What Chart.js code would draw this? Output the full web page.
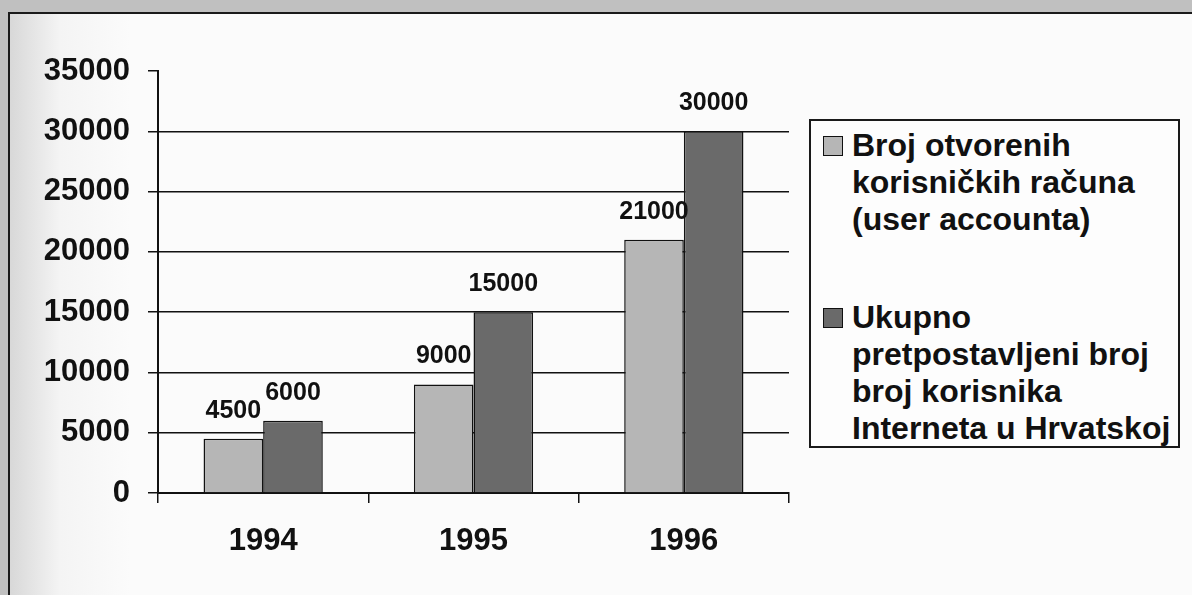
<!DOCTYPE html>
<html>
<head>
<meta charset="utf-8">
<script src="https://cdn.jsdelivr.net/npm/chart.js@4.4.1/dist/chart.umd.min.js"></script>
<style>
    html, body {
        margin: 0;
        padding: 0;
    }
    body {
        width: 1192px;
        height: 595px;
        overflow: hidden;
        position: relative;
        background: #c0c0c0;
        font-family: "Liberation Sans", Arial, sans-serif;
    }
    .frame {
        position: absolute;
        left: 8px;
        top: 12px;
        width: 1200px;
        height: 600px;
        border: 2px solid #1a1a1a;
        background: linear-gradient(to right, #d8d8d8 0px, #f4f4f4 50px, #fbfbfb 120px);
    }
    .chart-wrap {
        position: absolute;
        left: 0;
        top: 0;
        width: 1192px;
        height: 595px;
    }
    .legend {
        position: absolute;
        left: 809px;
        top: 119px;
        width: 371px;
        height: 329px;
        border: 2px solid #1a1a1a;
        background: #fdfdfd;
        box-sizing: border-box;
        padding: 6px 0 0 41px;
        font-weight: bold;
        font-size: 32px;
        line-height: 37px;
        color: #111;
    }
    .legend-item {
        position: relative;
        margin-bottom: 61px;
    }
    .legend-box {
        position: absolute;
        left: -29px;
        top: 9px;
        width: 18px;
        height: 18px;
        border: 1px solid #111;
    }
</style>
</head>
<body>
<div class="frame"></div>
<div class="chart-wrap"><canvas id="barChart" width="1192" height="595"></canvas></div>
<div class="legend" id="legend"></div>
<script>
// chart data
const years = ['1994', '1995', '1996'];
const openedAccounts = [4500, 9000, 21000];
const estimatedUsers = [6000, 15000, 30000];
const seriesNames = [
    ['Broj otvorenih', 'korisničkih računa', '(user accounta)'],
    ['Ukupno', 'pretpostavljeni broj', 'broj korisnika', 'Interneta u Hrvatskoj']
];
const seriesColors = ['#b6b6b6', '#6a6a6a'];
const yTicks = [0, 5000, 10000, 15000, 20000, 25000, 30000, 35000];

const FONT = '"Liberation Sans", Arial, sans-serif';

// draws the number above each bar
const valueLabels = {
    id: 'valueLabels',
    afterDatasetsDraw(chart) {
        const ctx = chart.ctx;
        ctx.save();
        ctx.font = `bold 25px ${FONT}`;
        ctx.fillStyle = '#111';
        ctx.textAlign = 'center';
        ctx.textBaseline = 'alphabetic';
        chart.data.datasets.forEach((ds, i) => {
            chart.getDatasetMeta(i).data.forEach((bar, j) => {
                ctx.fillText(String(ds.data[j]), bar.x, bar.y - 21);
            });
        });
        ctx.restore();
    }
};

class BarChartPage {
    constructor() {
        this.chart = null;
        this.initializeChart();
        this.buildLegend();
    }

    initializeChart() {
        const ctx = document.getElementById('barChart').getContext('2d');
        this.chart = new Chart(ctx, {
            type: 'bar',
            data: {
                labels: years,
                datasets: [
                    {
                        label: seriesNames[0].join(' '),
                        data: openedAccounts,
                        backgroundColor: seriesColors[0],
                        borderColor: '#111',
                        borderWidth: 1.5
                    },
                    {
                        label: seriesNames[1].join(' '),
                        data: estimatedUsers,
                        backgroundColor: seriesColors[1],
                        borderColor: '#111',
                        borderWidth: 1.5
                    }
                ]
            },
            options: {
                responsive: false,
                animation: false,
                layout: {
                    padding: { left: 0, right: 403, top: 71, bottom: 0 }
                },
                datasets: {
                    bar: { categoryPercentage: 0.567, barPercentage: 1.0 }
                },
                plugins: {
                    legend: { display: false },
                    tooltip: { enabled: false }
                },
                scales: {
                    x: {
                        afterFit: (scale) => { scale.height = 102; },
                        grid: {
                            offset: true,
                            drawOnChartArea: false,
                            color: '#111',
                            lineWidth: 1.5,
                            tickLength: 10
                        },
                        border: { color: '#111', width: 2 },
                        ticks: {
                            color: '#111',
                            padding: 20,
                            font: { family: FONT, size: 31, weight: 'bold' }
                        }
                    },
                    y: {
                        min: 0,
                        max: 35000,
                        afterFit: (scale) => { scale.width = 158; },
                        afterBuildTicks: (scale) => {
                            scale.ticks = yTicks.map(v => ({ value: v }));
                        },
                        grid: {
                            color: (c) => (c.tick && c.tick.value === 35000 ? 'rgba(0,0,0,0)' : '#111'),
                            tickColor: '#111',
                            lineWidth: 1.5,
                            tickLength: 10
                        },
                        border: { color: '#111', width: 2 },
                        ticks: {
                            color: '#111',
                            padding: 18,
                            font: { family: FONT, size: 31, weight: 'bold' },
                            callback: (value) => String(value)
                        }
                    }
                }
            },
            plugins: [valueLabels]
        });
    }

    buildLegend() {
        const legend = document.getElementById('legend');
        this.chart.data.datasets.forEach((ds, i) => {
            const item = document.createElement('div');
            item.className = 'legend-item';
            const box = document.createElement('span');
            box.className = 'legend-box';
            box.style.background = ds.backgroundColor;
            item.appendChild(box);
            seriesNames[i].forEach(line => {
                const row = document.createElement('div');
                row.textContent = line;
                item.appendChild(row);
            });
            legend.appendChild(item);
        });
    }
}

new BarChartPage();
</script>
</body>
</html>
